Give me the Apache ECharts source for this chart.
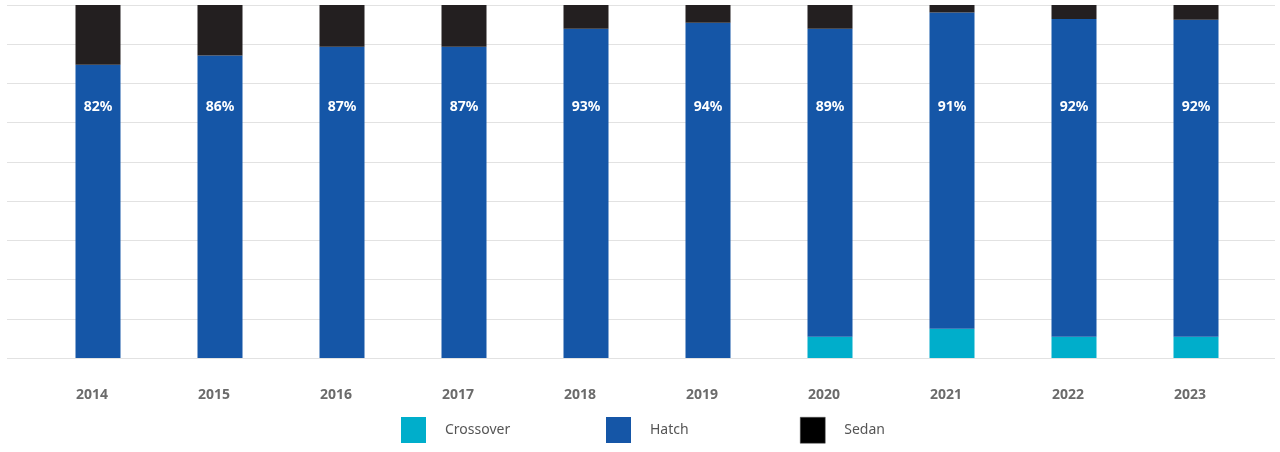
<!DOCTYPE html>
<html>
<head>
<meta charset="utf-8">
<script src="https://cdn.jsdelivr.net/npm/echarts@6/dist/echarts.min.js"></script>
<style>html,body{margin:0;padding:0;background:#fff}#c{width:1280px;height:452px}</style>
</head>
<body>
<div id="c"></div>
<script>
const years = ['2014','2015','2016','2017','2018','2019','2020','2021','2022','2023'];
const crossover = [0, 0, 0, 0, 0, 0, 6.0, 8.3, 6.0, 6.0];
const hatch = [83.1, 85.7, 88.2, 88.2, 93.3, 95.0, 87.3, 89.6, 90.0, 89.8];
const sedan = [16.9, 14.3, 11.8, 11.8, 6.7, 5.0, 6.7, 2.1, 4.0, 4.2];
const hatchLabels = ['82%','86%','87%','87%','93%','94%','89%','91%','92%','92%'];
const seriesNames = ['Crossover','Hatch','Sedan'];

const font = 'Noto Sans';
const chart = echarts.init(document.getElementById('c'));
const legendBase = {
  orient: 'horizontal', top: 412, itemWidth: 25, itemHeight: 26, icon: 'rect',
  textStyle: { fontFamily: font, fontSize: 14, color: '#555', padding: [0, 0, 0, 14] },
  selectedMode: false
};
chart.setOption({
  animation: false,
  grid: [
    { left: 7, right: 5, top: 5, bottom: 94 },
    { left: 37, right: 23, top: 5, bottom: 94 }
  ],
  legend: [
    Object.assign({}, legendBase, { left: 396, data: [{ name: seriesNames[0] }] }),
    Object.assign({}, legendBase, { left: 601, data: [{ name: seriesNames[1] }] }),
    Object.assign({}, legendBase, { left: 795, data: [{ name: seriesNames[2], itemStyle: { color: '#000', borderColor: '#555', borderWidth: 0.5 } }] })
  ],
  xAxis: [
    { gridIndex: 0, type: 'category', data: years, show: false },
    { gridIndex: 1, type: 'category', data: years,
      axisLine: { show: false }, axisTick: { show: false },
      axisLabel: { fontFamily: font, fontSize: 14, fontWeight: 'bold', color: '#6b6b6b', margin: 30, padding: [0, 12, 0, 0] } }
  ],
  yAxis: [
    { gridIndex: 0, type: 'value', min: 0, max: 100, interval: 100 / 9,
      axisLabel: { show: false }, axisLine: { show: false }, axisTick: { show: false },
      splitLine: { show: true, lineStyle: { color: '#e2e2e2', width: 1 } } },
    { gridIndex: 1, type: 'value', min: 0, max: 100, interval: 100 / 9, show: false,
      splitLine: { show: false } }
  ],
  series: [
    { name: seriesNames[0], type: 'bar', stack: 's', xAxisIndex: 1, yAxisIndex: 1, barWidth: 45,
      itemStyle: { color: '#00AECB' }, data: crossover },
    { name: seriesNames[1], type: 'bar', stack: 's', xAxisIndex: 1, yAxisIndex: 1, barWidth: 45,
      itemStyle: { color: '#1556A7' }, data: hatch },
    { name: seriesNames[2], type: 'bar', stack: 's', xAxisIndex: 1, yAxisIndex: 1, barWidth: 45,
      itemStyle: { color: '#231F20' }, data: sedan,
      label: { show: true, position: ['50%', 102], align: 'center', verticalAlign: 'middle',
        fontFamily: font, fontSize: 14, fontWeight: 'bold', color: '#fff',
        formatter: p => hatchLabels[p.dataIndex] } }
  ]
});
</script>
</body>
</html>
